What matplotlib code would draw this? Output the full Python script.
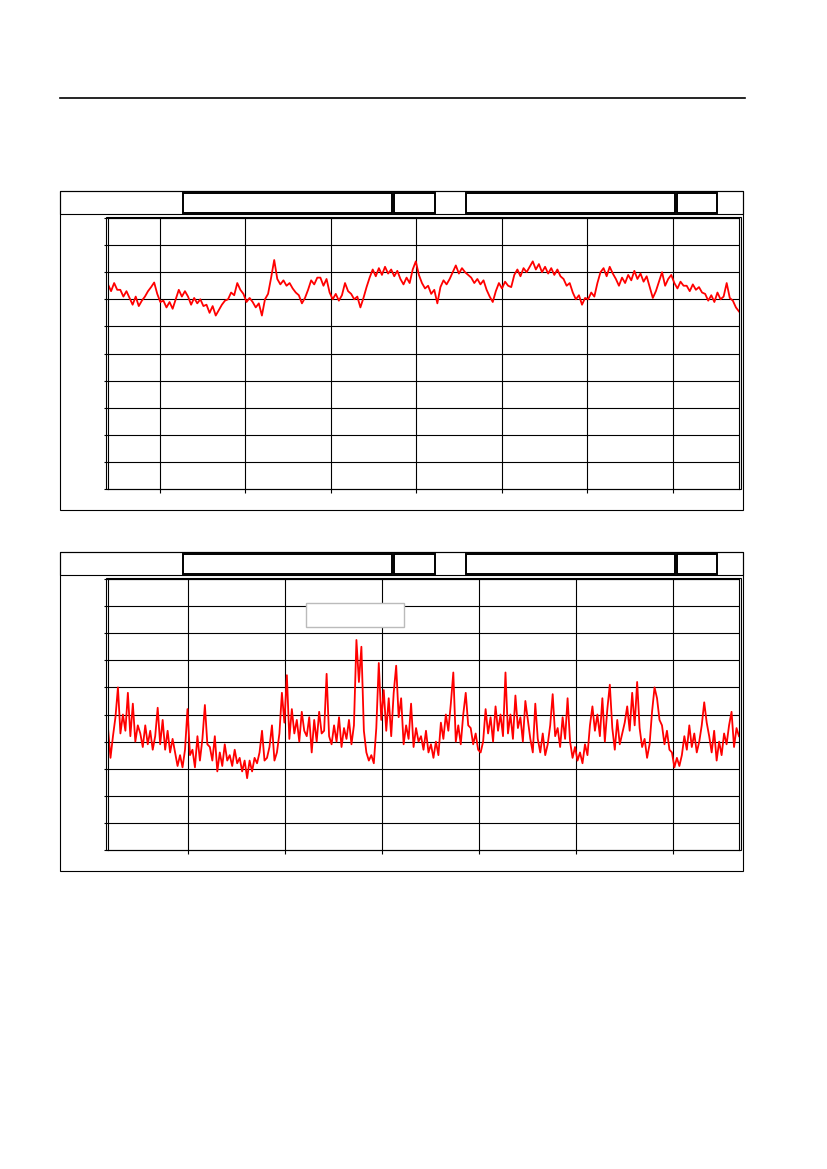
import numpy as np
import matplotlib
matplotlib.use('Agg')
import matplotlib.pyplot as plt
from matplotlib.patches import Rectangle

# both traces, in grid divisions (0 = bottom, 10 = top)
upper = [7.55, 7.3, 7.6, 7.35, 7.35, 7.1, 7.3, 7.05, 6.8, 7.1, 6.75, 6.95,
         7.1, 7.3, 7.45, 7.62, 7.2, 6.9, 6.95, 6.7, 6.9, 6.65, 7.0, 7.35,
         7.1, 7.3, 7.1, 6.8, 7.05, 6.85, 7.0, 6.75, 6.8, 6.5, 6.75, 6.4,
         6.6, 6.8, 6.95, 7.0, 7.25, 7.15, 7.6, 7.35, 7.2, 6.9, 7.05, 6.9,
         6.7, 6.85, 6.4, 7.0, 7.2, 7.8, 8.45, 7.75, 7.55, 7.7, 7.5, 7.6,
         7.4, 7.25, 7.15, 6.85, 7.05, 7.35, 7.7, 7.55, 7.8,
         7.8, 7.5, 7.75, 7.25, 7.0, 7.2, 6.95, 7.15, 7.6, 7.3, 7.2, 7.0,
         7.1, 6.7, 7.05, 7.45, 7.8, 8.1, 7.85, 8.15, 7.9, 8.2, 7.95, 8.1,
         7.85, 8.05, 7.75, 7.55, 7.8, 7.6, 8.1, 8.4, 7.9, 7.6, 7.4, 7.5,
         7.2, 7.35, 6.85, 7.45, 7.7, 7.55, 7.75, 8.0, 8.25, 7.95, 8.15, 8.0,
         7.9, 7.8, 7.6, 7.75, 7.55, 7.7, 7.35, 7.1, 6.9, 7.3, 7.6, 7.4,
         7.65, 7.5, 7.45, 7.9, 8.1, 7.85, 8.15, 8.0,
         8.2, 8.4, 8.1, 8.3, 8.0, 8.2, 7.95, 8.15, 7.9, 8.1, 7.85, 7.75,
         7.5, 7.6, 7.25, 7.0, 7.15, 6.8, 7.05, 7.0, 7.25, 7.1, 7.6, 8.0,
         8.15, 7.85, 8.2, 7.95, 7.75, 7.5, 7.8, 7.6, 7.9, 7.7, 8.05, 7.75,
         7.95, 7.65, 7.85, 7.45, 7.05, 7.3, 7.65, 8.0, 7.5, 7.75, 7.9, 7.6,
         7.4, 7.65, 7.5, 7.5, 7.3, 7.55, 7.35, 7.45, 7.25, 7.2, 6.95, 7.15,
         6.9, 7.25, 7.0, 7.1, 7.6, 7.05, 6.95, 6.7, 6.55]

lower = [4.5, 3.4, 4.2, 4.9, 6.0, 4.3, 5.0, 4.4, 5.8, 4.2, 5.4, 4.0,
         4.6, 4.3, 3.8, 4.6, 3.9, 4.4, 3.7, 4.2, 5.25, 3.9, 4.8, 3.7,
         4.4, 3.6, 4.1, 3.6, 3.1, 3.5, 3.05, 3.7, 5.2, 3.5, 3.7, 3.05,
         4.2, 3.3, 4.1, 5.35, 3.9, 3.8, 3.3, 4.2, 2.9, 3.6, 3.1, 3.9,
         3.3, 3.5, 3.1, 3.7, 3.2, 3.4, 2.9, 3.3, 2.65, 3.3, 2.9, 3.4,
         3.2, 3.6, 4.4, 3.3, 3.4, 3.8, 4.6, 3.3, 3.6, 4.3, 5.8, 4.7,
         6.45, 4.1, 5.2, 4.3, 4.8, 4.0, 5.1, 4.4, 4.2, 4.9, 3.6, 4.8,
         4.0, 5.1, 4.3,
         4.4, 6.5, 4.2, 3.9, 4.6, 4.0, 4.9, 3.8, 4.5, 4.1, 4.8, 3.9,
         4.6, 7.75, 6.2, 7.5, 4.4, 3.6, 3.3, 3.5, 3.2, 4.5, 6.9, 4.8,
         5.9, 4.4, 5.6, 4.2, 5.8, 6.8, 4.9, 5.6, 3.9, 4.6, 4.1, 5.4,
         3.8, 4.5, 4.0, 4.2, 3.7, 4.4, 3.6, 3.9, 3.4, 4.0, 3.5, 4.7,
         4.1, 5.0, 4.4, 5.4, 6.55, 4.0, 4.6, 3.9, 5.0, 5.8, 4.6, 4.5,
         3.9, 4.3, 3.7, 3.6, 4.0, 5.2, 4.3, 4.9, 4.0, 5.3, 4.4, 5.0,
         4.2, 6.55, 4.3, 5.0, 4.1, 5.7, 4.5, 4.9, 4.0, 5.5, 4.8, 4.1,
         3.6,
         5.4, 4.1, 3.6, 4.3, 3.5, 3.9, 4.6, 5.75, 4.2, 4.5, 3.8, 4.9,
         4.1, 5.6, 4.0, 3.4, 3.8, 3.3, 3.6, 3.2, 3.9, 3.5, 4.6, 5.3,
         4.4, 5.0, 4.2, 5.6, 4.0, 5.2, 6.1, 4.5, 3.7, 4.8, 3.9, 4.3,
         4.7, 5.3, 4.4, 5.8, 4.6, 6.2, 4.5, 3.8, 4.1, 3.4, 3.9, 5.1,
         6.0, 5.6, 4.8, 4.6, 3.9, 4.4, 3.7, 3.6, 3.05, 3.4, 3.1, 3.5,
         4.2, 3.7, 4.6, 3.8, 4.3, 3.6, 4.0, 4.6, 5.45, 4.7, 4.2, 3.6,
         4.4, 3.3, 4.0, 3.5, 4.3, 3.9, 4.6, 5.1, 3.8, 4.5, 4.2]

upper_xlim = (0.392, 7.772)
upper_xticks = [1, 2, 3, 4, 5, 6, 7]
lower_xlim = (0.179, 6.676)
lower_xticks = [1, 2, 3, 4, 5, 6]

W, H = 827, 1169
fig = plt.figure(figsize=(8.27, 11.69), dpi=100)

# page layer in pixel coordinates
bg = fig.add_axes([0, 0, 1, 1])
bg.set_xlim(0, W)
bg.set_ylim(H, 0)
bg.axis('off')

bg.plot([60, 745], [98, 98], color='black', lw=1.2)


def panel(top):
    bg.add_patch(Rectangle((60, top), 683, 319, fill=False, lw=0.8))
    bg.add_patch(Rectangle((60, top), 683, 23, fill=False, lw=0.8))
    for x0, x1 in [(183, 392), (394, 435), (466, 675), (677, 717)]:
        bg.add_patch(Rectangle((x0, top + 2), x1 - x0, 20, fill=False, lw=1.4))
    bg.add_patch(Rectangle((106, top + 26), 635, 272, fill=False, lw=0.8))


def chart(top, values, xlim, xticks):
    ax = fig.add_axes([108 / W, 1 - (top + 298) / H, 631 / W, 271 / H])
    x = np.linspace(xlim[0], xlim[1], len(values))
    ax.plot(x, values, color='#ff0000', lw=1.3)
    ax.set_xlim(xlim)
    ax.set_ylim(0, 10)
    ax.set_xticks(xticks)
    ax.set_yticks(range(11))
    ax.grid(True, color='black', lw=0.8)
    ax.tick_params(direction='out', length=3, width=0.8,
                   labelbottom=False, labelleft=False)
    for s in ax.spines.values():
        s.set_linewidth(0.8)
    return ax


panel(191)
chart(191, upper, upper_xlim, upper_xticks)

panel(552)
ax2 = chart(552, lower, lower_xlim, lower_xticks)
# empty legend box
ax2.add_patch(Rectangle((306, 603), 98, 24, transform=bg.transData,
                        facecolor='white', edgecolor='#bbbbbb', lw=1, zorder=3))

fig.savefig('out.png', dpi=100)
